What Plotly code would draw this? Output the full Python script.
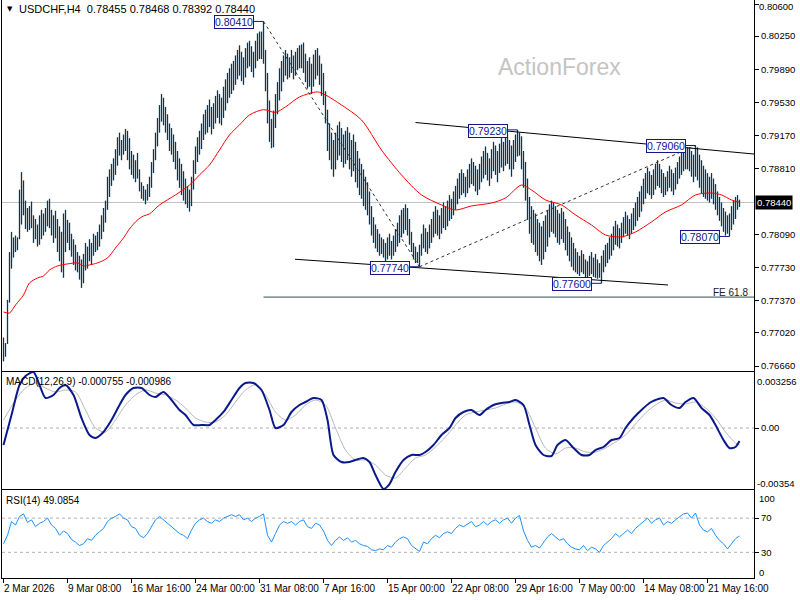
import plotly.graph_objects as go

# ---------------- data ----------------
symbol_title = "USDCHF,H4&nbsp;&nbsp;0.78455 0.78468 0.78392 0.78440"
macd_title = "MACD(12,26,9) -0.000755 -0.000986"
rsi_title = "RSI(14) 49.0854"
last_price = 0.78440
fe_level = 0.77410

# H4 bar highs / lows in pips (price * 10000)
bar_high_pips = [
7697,7691,7738,7790,7812,7806,7808,7806,7858,7877,
7868,7846,7838,7840,7845,7830,7826,7820,7830,7836,
7832,7838,7846,7848,7836,7830,7835,7826,7818,7812,
7832,7836,7825,7822,7810,7804,7798,7790,7786,7782,
7788,7800,7796,7804,7800,7810,7808,7812,7820,7830,
7838,7846,7872,7880,7886,7892,7902,7915,7920,7912,
7918,7924,7922,7914,7900,7896,7890,7898,7880,7866,
7862,7858,7864,7872,7888,7902,7920,7936,7950,7962,
7958,7948,7940,7930,7925,7918,7910,7900,7892,7886,
7878,7870,7862,7858,7872,7890,7905,7915,7922,7930,
7940,7945,7950,7956,7948,7952,7960,7966,7962,7958,
7970,7978,7985,7990,7995,7998,8004,8010,8015,8008,
8002,8012,8018,8020,8014,8008,8020,8028,8030,8030,
8041,8010,7985,7955,7935,7944,7962,7975,7990,7998,
8004,8010,8006,8002,8010,8004,8008,8012,8015,8016,
8018,8006,7998,8002,7995,8005,8010,8012,8004,7995,
7985,7965,7945,7930,7920,7912,7920,7928,7932,7925,
7918,7922,7926,7920,7912,7918,7910,7900,7892,7886,
7880,7872,7866,7856,7840,7828,7820,7815,7810,7806,
7804,7800,7806,7810,7802,7808,7815,7822,7830,7836,
7838,7842,7838,7826,7812,7800,7796,7790,7798,7810,
7820,7816,7812,7820,7826,7834,7840,7836,7830,7838,
7844,7840,7846,7852,7848,7856,7862,7870,7876,7880,
7876,7872,7880,7886,7892,7888,7884,7880,7886,7894,
7900,7905,7898,7892,7902,7910,7906,7900,7908,7914,
7910,7916,7918,7912,7906,7912,7918,7923,7920,7916,
7900,7888,7870,7850,7840,7836,7832,7826,7822,7818,
7824,7830,7836,7842,7846,7844,7840,7836,7832,7838,
7834,7826,7818,7812,7806,7800,7794,7790,7786,7792,
7788,7782,7780,7786,7790,7784,7788,7782,7778,7786,
7792,7798,7800,7806,7810,7818,7824,7820,7816,7822,
7828,7834,7830,7826,7832,7838,7844,7850,7856,7862,
7870,7876,7882,7878,7874,7880,7886,7890,7886,7880,
7876,7872,7878,7884,7880,7876,7882,7888,7894,7898,
7902,7904,7904,7904,7900,7896,7906,7904,7896,7890,
7884,7880,7876,7872,7876,7870,7864,7856,7850,7844,
7838,7834,7830,7832,7840,7846,7850,7852,7847]

bar_low_pips = [
7671,7676,7690,7735,7772,7784,7790,7792,7804,7820,
7830,7815,7812,7814,7816,7800,7804,7796,7798,7804,
7808,7812,7818,7816,7808,7800,7805,7790,7780,7768,
7762,7790,7800,7792,7785,7776,7770,7768,7760,7751,
7756,7770,7772,7780,7776,7786,7790,7792,7796,7804,
7812,7822,7836,7850,7862,7868,7874,7884,7895,7890,
7896,7900,7890,7880,7874,7870,7866,7870,7856,7848,
7846,7842,7846,7850,7860,7876,7890,7905,7920,7932,
7928,7920,7912,7900,7896,7888,7880,7868,7860,7852,
7846,7842,7838,7834,7840,7858,7875,7888,7896,7902,
7912,7918,7920,7926,7918,7924,7930,7936,7930,7928,
7936,7944,7952,7958,7962,7966,7972,7978,7982,7976,
7972,7980,7990,7992,7986,7980,7990,7998,8000,8000,
7995,7965,7930,7910,7903,7904,7925,7940,7955,7965,
7975,7982,7978,7980,7985,7978,7982,7988,7990,7990,
7985,7975,7968,7970,7962,7970,7978,7982,7972,7960,
7950,7930,7900,7890,7880,7872,7880,7890,7895,7888,
7882,7886,7890,7880,7872,7878,7866,7860,7852,7848,
7840,7836,7830,7820,7808,7800,7794,7790,7786,7788,
7784,7780,7782,7786,7782,7786,7790,7796,7800,7806,
7810,7814,7808,7798,7790,7782,7778,7778,7774,7786,
7794,7790,7788,7794,7800,7806,7810,7808,7804,7810,
7816,7814,7818,7824,7826,7830,7836,7842,7848,7852,
7854,7850,7854,7860,7864,7862,7856,7852,7858,7866,
7870,7874,7868,7862,7870,7878,7874,7866,7876,7882,
7878,7884,7886,7880,7872,7880,7888,7894,7895,7880,
7860,7846,7825,7810,7800,7798,7790,7786,7780,7776,
7782,7790,7796,7806,7812,7810,7806,7800,7798,7804,
7800,7792,7786,7780,7774,7770,7768,7766,7764,7768,
7766,7762,7760,7764,7766,7763,7762,7761,7762,7756,
7768,7774,7778,7782,7786,7792,7798,7796,7794,7800,
7806,7810,7808,7804,7810,7814,7818,7824,7828,7834,
7842,7848,7854,7852,7848,7852,7858,7862,7860,7854,
7850,7852,7856,7860,7856,7852,7858,7864,7870,7874,
7878,7880,7880,7878,7872,7866,7872,7868,7860,7854,
7850,7848,7846,7844,7848,7842,7836,7830,7824,7818,
7812,7808,7810,7807,7814,7820,7826,7836,7839]

# moving average (red) read at bar indices
ma_idx = [0,3,6,10,13,17,20,23,27,32,37,40,43,47,52,56,60,63,67,70,
          73,78,86,93,98,103,108,113,118,123,130,136,141,148,157,161,169,179,189,199,
          209,219,226,234,244,251,259,264,271,279,286,294,301,309,316,324,331,339,346,354,
          359,364,368]
ma_val = [0.77248,0.77237,0.77324,0.77433,0.77564,0.77618,0.77640,0.77705,0.77749,0.77771,
          0.77782,0.77749,0.77760,0.77782,0.77836,0.77945,0.78054,0.78152,0.78250,0.78293,
          0.78315,0.78413,0.78522,0.78630,0.78740,0.78848,0.79011,0.79175,0.79284,0.79392,
          0.79450,0.79420,0.79480,0.79588,0.79643,0.79610,0.79501,0.79338,0.79011,0.78739,
          0.78522,0.78413,0.78358,0.78402,0.78434,0.78489,0.78630,0.78576,0.78467,0.78413,
          0.78304,0.78195,0.78086,0.78065,0.78119,0.78228,0.78337,0.78413,0.78522,0.78543,
          0.78522,0.78467,0.78445]

# MACD main line
macd_idx = [0,4,8,11,15,18,21,25,28,31,35,39,43,46,50,54,58,61,65,69,73,76,80,84,88,91,95,99,103,106,
            110,114,118,121,125,129,133,136,140,144,148,151,155,159,162,165,169,173,176,180,183,186,190,193,196,
            200,204,208,211,215,219,223,226,230,234,238,241,245,249,253,256,260,263,266,270,274,277,281,285,289,
            293,296,300,304,308,311,315,319,323,326,330,334,338,341,345,349,353,356,360,363,366,368]
macd_val = [-0.000984,0.000758,0.002501,0.003024,0.003256,0.002501,0.001746,0.001920,0.002327,0.002501,
            0.001920,0.000584,-0.000403,-0.000578,-0.000229,0.000468,0.001339,0.001920,0.002327,0.002327,
            0.001920,0.001804,0.002094,0.001630,0.001049,0.000758,0.000178,0.000178,0.000178,0.000468,
            0.000933,0.001630,0.002327,0.002617,0.002617,0.002210,0.001049,0.000003,0.000178,0.000933,
            0.001339,0.001513,0.001746,0.001630,0.000468,-0.001565,-0.001972,-0.001972,-0.001856,-0.001740,
            -0.001972,-0.002727,-0.003540,-0.003250,-0.002553,-0.001856,-0.001565,-0.001565,-0.001391,-0.000984,
            -0.000403,0.000003,0.000584,0.000933,0.001049,0.000758,0.001049,0.001339,0.001455,0.001513,
            0.001630,0.001339,0.000178,-0.000984,-0.001565,-0.001623,-0.000984,-0.000694,-0.001159,-0.001565,
            -0.001565,-0.001275,-0.001100,-0.000694,-0.000578,0.000003,0.000584,0.001049,0.001455,0.001630,
            0.001746,0.001339,0.001165,0.001513,0.001746,0.001165,0.000758,0.000178,-0.000694,-0.001159,
            -0.001100,-0.000755]

# MACD signal line
sig_idx = [0,6,11,16,21,26,31,36,41,46,51,56,61,66,71,76,81,86,91,96,101,106,111,116,121,126,131,136,141,146,
           151,156,161,166,171,176,181,186,191,196,201,206,211,216,221,226,231,236,241,246,251,256,261,266,271,
           276,281,286,291,296,301,306,311,316,321,326,331,336,341,346,351,356,361,366,368]
sig_val = [0.000468,0.001630,0.002327,0.002617,0.002327,0.002094,0.002210,0.002094,0.001049,0.000003,
           -0.000229,0.000468,0.001339,0.001920,0.002210,0.002036,0.001920,0.001630,0.001165,0.000584,
           0.000352,0.000352,0.000758,0.001513,0.002210,0.002501,0.001920,0.000933,0.000468,0.000758,
           0.001339,0.001630,0.001339,0.000003,-0.001275,-0.001856,-0.001856,-0.002146,-0.002727,-0.002901,
           -0.002320,-0.001740,-0.001565,-0.001100,-0.000519,0.000178,0.000758,0.000933,0.001049,0.001165,
           0.001397,0.001513,0.001165,0.000003,-0.001159,-0.001507,-0.001159,-0.001159,-0.001391,-0.001391,
           -0.001159,-0.000810,-0.000403,0.000236,0.000875,0.001339,0.001630,0.001455,0.001397,0.001513,
           0.001165,0.000584,-0.000229,-0.000868,-0.000986]

# RSI(14) read every second bar
rsi_idx = list(range(0, 367, 2)) + [368]
rsi_val = [40,50,66,62,72,75,65,68,60,64,66,70,62,58,50,55,52,45,42,38,
           40,46,44,50,54,58,66,70,72,75,70,68,60,58,50,47,52,60,68,72,
           68,64,60,56,52,50,46,56,64,68,70,66,64,68,66,70,72,74,72,74,
           68,70,66,70,72,75,50,42,52,62,66,64,66,62,66,68,60,58,64,62,
           55,44,38,44,48,44,47,42,44,40,38,37,33,32,34,33,38,36,42,46,
           48,46,38,34,31,42,40,46,50,47,52,54,52,58,62,60,63,66,60,62,
           66,62,66,68,64,68,70,64,70,73,55,44,36,38,35,42,48,52,48,44,
           46,40,36,34,33,38,32,36,34,30,38,42,46,52,48,52,56,52,58,62,
           66,70,64,68,70,62,66,64,68,72,75,76,70,76,62,56,54,58,50,44,
           40,34,40,46,49.0854]

# chart drawing anchors (bar index, price)
swing_points = [(130, 0.80410), (208, 0.77740), (346, 0.79060)]
upper_trend = [(206, 0.79310), (375.25, 0.78967)]
lower_trend = [(145.75, 0.77822), (332.25, 0.77542)]
price_labels = [(130, 0.80410, "0.80410", 0), (257, 0.79230, "0.79230", 0),
                (346, 0.79060, "0.79060", 0), (208, 0.77740, "0.77740", 0),
                (299, 0.77560, "0.77600", 0), (363, 0.78070, "0.78070", 0)]

main_ticks = [0.80250, 0.79890, 0.79530, 0.79170, 0.78810,
              0.78090, 0.77730, 0.77370, 0.77020, 0.76660]
top_tick = 0.80600
date_idx = [0, 32, 64, 96, 128, 160, 192, 224, 256, 288, 320, 352]
date_text = ["2 Mar 2026", "9 Mar 08:00", "16 Mar 16:00", "24 Mar 00:00", "31 Mar 08:00",
             "7 Apr 16:00", "15 Apr 00:00", "22 Apr 08:00", "29 Apr 16:00", "7 May 00:00",
             "14 May 08:00", "21 May 16:00"]

# ---------------- layout helpers ----------------
W, H = 800, 600
ML, MR, MT, MB = 2, 46, 0, 22
PW, PH = W - ML - MR, H - MT - MB
FONT = "Liberation Sans"
BAR_COLOR = "#0b3655"
NAVY = "#14148c"

def px(x):
    return (x - ML) / PW

def py(y):
    return 1 - (y - MT) / PH

XR = [-0.75, 375.25]

fig = go.Figure()

# bars as vertical high-low lines
bx, by = [], []
for i, (h, l) in enumerate(zip(bar_high_pips, bar_low_pips)):
    bx += [i, i, None]
    by += [l / 10000, h / 10000, None]
fig.add_trace(go.Scatter(x=bx, y=by, mode="lines", line=dict(color=BAR_COLOR, width=1.3),
                         xaxis="x", yaxis="y", hoverinfo="skip"))
fig.add_trace(go.Scatter(x=ma_idx, y=ma_val, mode="lines", line=dict(color="#ff0000", width=1, shape="spline", smoothing=0.8),
                         xaxis="x", yaxis="y", hoverinfo="skip"))

fig.add_trace(go.Scatter(x=sig_idx, y=sig_val, mode="lines", line=dict(color="#b8b8b8", width=1, shape="spline", smoothing=0.8),
                         xaxis="x2", yaxis="y2", hoverinfo="skip"))
fig.add_trace(go.Scatter(x=macd_idx, y=macd_val, mode="lines", line=dict(color="#0a1a8c", width=2, shape="spline", smoothing=0.7),
                         xaxis="x2", yaxis="y2", hoverinfo="skip"))

fig.add_trace(go.Scatter(x=rsi_idx, y=rsi_val, mode="lines", line=dict(color="#1e90ff", width=1),
                         xaxis="x3", yaxis="y3", hoverinfo="skip"))

main_dom = [py(371), 1]
macd_dom = [py(489), py(372)]
rsi_dom = [0, py(490)]

axis_common = dict(showgrid=False, zeroline=False, showline=True, mirror=True,
                   linecolor="black", linewidth=1)
yfont = dict(family=FONT, size=9.5, color="black")

fig.update_layout(
    width=W, height=H, margin=dict(l=ML, r=MR, t=MT, b=MB),
    paper_bgcolor="white", plot_bgcolor="white", showlegend=False, hovermode=False,
    xaxis=dict(domain=[0, 1], range=XR, anchor="y", showticklabels=False, ticks="", **axis_common),
    xaxis2=dict(domain=[0, 1], range=XR, anchor="y2", showticklabels=False, ticks="", **axis_common),
    xaxis3=dict(domain=[0, 1], range=XR, anchor="y3", showticklabels=False, ticks="outside",
                ticklen=4, tickcolor="black", tickvals=date_idx, **axis_common),
    yaxis=dict(domain=main_dom, range=[0.766057, 0.806435], side="right", anchor="x",
               ticks="outside", ticklen=4, tickcolor="black", tickvals=main_ticks + [top_tick],
               ticktext=[f"{v:.5f}" for v in main_ticks] + [""], tickfont=yfont, **axis_common),
    yaxis2=dict(domain=macd_dom, range=[-0.00354, 0.003256], side="right", anchor="x2",
                ticks="outside", ticklen=4, tickcolor="black", tickvals=[0], ticktext=["0.00"],
                tickfont=yfont, **axis_common),
    yaxis3=dict(domain=rsi_dom, range=[0, 102.9], side="right", anchor="x3",
                ticks="outside", ticklen=4, tickcolor="black", tickvals=[30, 70],
                ticktext=["30", "70"], tickfont=yfont, **axis_common),
)

shapes = []
# current price line
shapes.append(dict(type="line", xref="x domain", yref="y", x0=0, x1=1, y0=last_price, y1=last_price,
                   line=dict(color="#c0c0c0", width=1), layer="below"))
# FE 61.8 level
shapes.append(dict(type="line", xref="x", yref="y", x0=swing_points[0][0], x1=XR[1], y0=fe_level, y1=fe_level,
                   line=dict(color="#2f4f4f", width=1)))
# trend lines
for tl in (upper_trend, lower_trend):
    shapes.append(dict(type="line", xref="x", yref="y", x0=tl[0][0], y0=tl[0][1], x1=tl[1][0], y1=tl[1][1],
                       line=dict(color="black", width=1)))
# dotted expansion lines
for a, b in zip(swing_points[:-1], swing_points[1:]):
    shapes.append(dict(type="line", xref="x", yref="y", x0=a[0], y0=a[1], x1=b[0], y1=b[1],
                       line=dict(color="#303030", width=1, dash="3px,3px")))
# label connectors
for (bi, p, t, ys) in price_labels:
    shapes.append(dict(type="line", xref="x", yref="y", x0=bi - 5, x1=bi, y0=p, y1=p,
                       line=dict(color=NAVY, width=1)))
# MACD zero and RSI levels
shapes.append(dict(type="line", xref="x2 domain", yref="y2", x0=0, x1=1, y0=0, y1=0,
                   line=dict(color="#b0b0b0", width=1, dash="3px,3px"), layer="below"))
for lv in (30, 70):
    shapes.append(dict(type="line", xref="x3 domain", yref="y3", x0=0, x1=1, y0=lv, y1=lv,
                       line=dict(color="#b0b0b0", width=1, dash="3px,3px"), layer="below"))

ann = []
ann.append(dict(xref="paper", yref="paper", x=px(5), y=py(9), text="▼", showarrow=False,
                xanchor="left", yanchor="middle", font=dict(family="DejaVu Sans", size=7, color="black")))
ann.append(dict(xref="paper", yref="paper", x=px(17), y=py(9), text=symbol_title, showarrow=False,
                xanchor="left", yanchor="middle", font=dict(family=FONT, size=11, color="black")))
ann.append(dict(xref="paper", yref="paper", x=px(559), y=py(67), text="ActionForex", showarrow=False,
                xanchor="center", yanchor="middle", font=dict(family=FONT, size=23, color="#c4c4c4")))
ann.append(dict(xref="paper", yref="paper", x=px(4), y=py(381), text=macd_title, showarrow=False,
                xanchor="left", yanchor="middle", font=dict(family=FONT, size=10, color="black")))
ann.append(dict(xref="paper", yref="paper", x=px(4), y=py(500), text=rsi_title, showarrow=False,
                xanchor="left", yanchor="middle", font=dict(family=FONT, size=10, color="black")))
ann.append(dict(xref="paper", yref="paper", x=px(750), y=py(292), text="FE 61.8", showarrow=False,
                xanchor="right", yanchor="middle", font=dict(family=FONT, size=10, color="#202020")))
# price labels
for (bi, p, t, ys) in price_labels:
    ann.append(dict(xref="x", yref="y", x=bi - 5, y=p, text=t, showarrow=False, xanchor="right",
                    yanchor="middle", yshift=-1 + ys, font=dict(family=FONT, size=10.5, color=NAVY),
                    bordercolor=NAVY, borderwidth=1, borderpad=0, bgcolor="white"))
# current price tag
ann.append(dict(xref="paper", yref="y", x=1, y=last_price, text="0.78440", showarrow=False,
                xanchor="left", yanchor="middle", xshift=1, font=dict(family=FONT, size=9.5, color="white"),
                bgcolor="black", borderpad=1))
# top main-scale label (kept inside the chart)
ann.append(dict(xref="paper", yref="paper", x=1, y=py(6), text=f"{top_tick:.5f}", showarrow=False,
                xanchor="left", yanchor="middle", xshift=3, font=yfont))
# MACD / RSI clamped scale labels
for txt, yy in (("0.003256", 381), ("-0.00354", 483)):
    ann.append(dict(xref="paper", yref="paper", x=1, y=py(yy), text=txt, showarrow=False,
                    xanchor="left", yanchor="middle", xshift=1, font=yfont))
for txt, yy in (("100", 498), ("0", 572)):
    ann.append(dict(xref="paper", yref="paper", x=1, y=py(yy), text=txt, showarrow=False,
                    xanchor="left", yanchor="middle", xshift=3, font=yfont))
# date labels
for di, dt in zip(date_idx, date_text):
    ann.append(dict(xref="x3", yref="paper", x=di, y=0, text=dt, showarrow=False, xanchor="left",
                    yanchor="top", xshift=-2, yshift=-3, font=dict(family=FONT, size=10, color="black")))

fig.update_layout(shapes=shapes, annotations=ann)
fig.write_html("out.html")
